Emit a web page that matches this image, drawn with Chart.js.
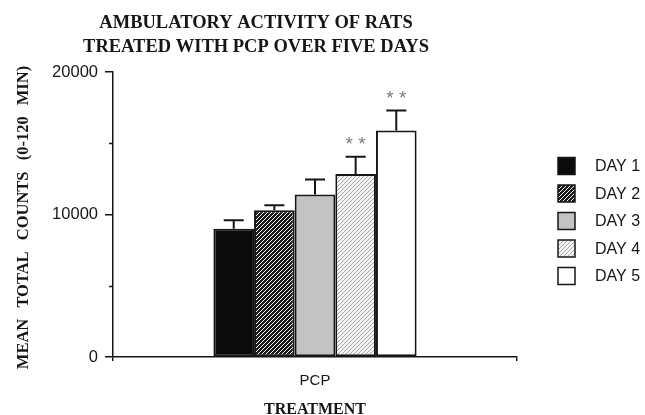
<!DOCTYPE html>
<html>
<head>
<meta charset="utf-8">
<script src="https://cdn.jsdelivr.net/npm/chart.js@4.4.1/dist/chart.umd.min.js"></script>
<style>
  html, body { margin: 0; padding: 0; background: #fff; }
  #chart { display: block; }
</style>
</head>
<body>
<canvas id="chart" width="645" height="415"></canvas>
<script>
const categories = ['PCP'];
const dayLabels = ['DAY 1', 'DAY 2', 'DAY 3', 'DAY 4', 'DAY 5'];
const means = [9000, 10300, 11400, 12850, 15900];
const errors = [600, 350, 1050, 1200, 1400];
const marks = ['', '', '', '**', '**'];
const yMajor = [0, 10000, 20000];
const yMinor = [5000, 15000];

const titleLines = ['AMBULATORY ACTIVITY OF RATS', 'TREATED WITH PCP OVER FIVE DAYS'];
const yTitle = 'MEAN TOTAL COUNTS (0-120 MIN)';
const xTitle = 'TREATMENT';

const serif = '"Liberation Serif", "Times New Roman", serif';
const sans = '"Liberation Sans", Arial, sans-serif';
const ink = '#161616';

// hatch / fill patterns for each day
function hatch(bg, line, size, width) {
  const c = document.createElement('canvas');
  c.width = size; c.height = size;
  const g = c.getContext('2d');
  g.fillStyle = bg;
  g.fillRect(0, 0, size, size);
  if (line) {
    g.strokeStyle = line;
    g.lineWidth = width;
    g.beginPath();
    g.moveTo(0, size); g.lineTo(size, 0);
    g.moveTo(-size, size); g.lineTo(0, 0);
    g.moveTo(0, size * 2); g.lineTo(size * 2, 0);
    g.stroke();
  }
  return g.createPattern(c, 'repeat');
}

const ctx = document.getElementById('chart').getContext('2d');
const fills = [
  '#0b0b0b',
  hatch('#1c1c1c', '#f2f2f2', 4, 1),
  '#c3c3c3',
  hatch('#f4f4f4', '#a9a9a9', 4, 1),
  '#ffffff'
];

const extras = {
  id: 'extras',
  afterDatasetsDraw(chart) {
    const y = chart.scales.y;
    const c = chart.ctx;
    c.save();
    chart.data.datasets.forEach((ds, i) => {
      const bar = chart.getDatasetMeta(i).data[0];
      const top = y.getPixelForValue(means[i] + errors[i]);
      c.strokeStyle = ink;
      c.lineWidth = 2;
      c.beginPath();
      c.moveTo(bar.x, bar.y);
      c.lineTo(bar.x, top);
      c.moveTo(bar.x - 10, top);
      c.lineTo(bar.x + 10, top);
      c.stroke();
      if (marks[i]) {
        c.fillStyle = '#7a7a7a';
        c.font = '19px ' + sans;
        c.textAlign = 'center';
        c.textBaseline = 'middle';
        c.fillText(marks[i].split('').join(' '), bar.x, top - 12);
      }
    });
    c.restore();
  },
  afterDraw(chart) {
    const c = chart.ctx;
    const area = chart.chartArea;
    const y = chart.scales.y;
    c.save();
    // minor ticks on y axis
    c.strokeStyle = ink;
    c.lineWidth = 1.5;
    yMinor.forEach(v => {
      const py = Math.round(y.getPixelForValue(v)) + 0.5;
      c.beginPath();
      c.moveTo(area.left - 4, py);
      c.lineTo(area.left, py);
      c.stroke();
    });

    // title
    c.fillStyle = ink;
    c.textAlign = 'center';
    c.textBaseline = 'alphabetic';
    c.font = 'bold 18.5px ' + serif;
    c.fillText(titleLines[0], 256, 28);
    c.fillText(titleLines[1], 256, 52);

    // axis titles
    c.font = 'bold 16px ' + serif;
    c.fillText(xTitle, (area.left + area.right) / 2, 414);
    c.save();
    c.translate(28, (area.top + area.bottom) / 2 + 3);
    c.rotate(-Math.PI / 2);
    c.font = 'bold 16.5px ' + serif;
    c.wordSpacing = '7px';
    c.fillText(yTitle, 0, 0);
    c.restore();

    // legend
    c.font = '16px ' + sans;
    c.textAlign = 'left';
    c.textBaseline = 'middle';
    chart.data.datasets.forEach((ds, i) => {
      const cy = 166 + i * 27.5;
      c.fillStyle = ds.backgroundColor;
      c.fillRect(558, cy - 8.5, 17, 17);
      c.strokeStyle = ink;
      c.lineWidth = 1.5;
      c.strokeRect(558, cy - 8.5, 17, 17);
      c.fillStyle = ink;
      c.fillText(ds.label, 595, cy + 1);
    });
    c.restore();
  }
};

new Chart(ctx, {
  type: 'bar',
  data: {
    labels: categories,
    datasets: dayLabels.map((label, i) => ({
      label: label,
      data: [means[i]],
      backgroundColor: fills[i],
      borderColor: ink,
      borderWidth: 2,
      borderSkipped: false
    }))
  },
  options: {
    responsive: false,
    animation: false,
    devicePixelRatio: 1,
    layout: { padding: { left: 0, top: 72, right: 128, bottom: 0 } },
    categoryPercentage: 0.503,
    barPercentage: 1,
    plugins: {
      legend: { display: false },
      title: { display: false },
      tooltip: { enabled: false }
    },
    scales: {
      x: {
        afterFit(scale) { scale.height = 58; },
        grid: { drawOnChartArea: false, drawTicks: true, tickLength: 4, color: ink, lineWidth: 1.5 },
        border: { color: ink, width: 1.5 },
        ticks: { color: ink, font: { family: sans, size: 15 }, padding: 11 }
      },
      y: {
        min: 0,
        max: 20000,
        afterFit(scale) { scale.width = 113; },
        afterBuildTicks(scale) {
          scale.ticks = yMajor.concat(yMinor).sort((a, b) => a - b).map(v => ({ value: v }));
        },
        grid: {
          drawOnChartArea: false,
          tickLength: 8,
          lineWidth: 1.5,
          color: c => (yMajor.includes(c.tick && c.tick.value) ? ink : 'rgba(0,0,0,0)')
        },
        border: { color: ink, width: 1.5 },
        ticks: {
          color: ink,
          font: { family: sans, size: 16.5 },
          padding: 7,
          callback: v => (yMajor.includes(v) ? String(v) : '')
        }
      }
    }
  },
  plugins: [extras]
});
</script>
</body>
</html>
